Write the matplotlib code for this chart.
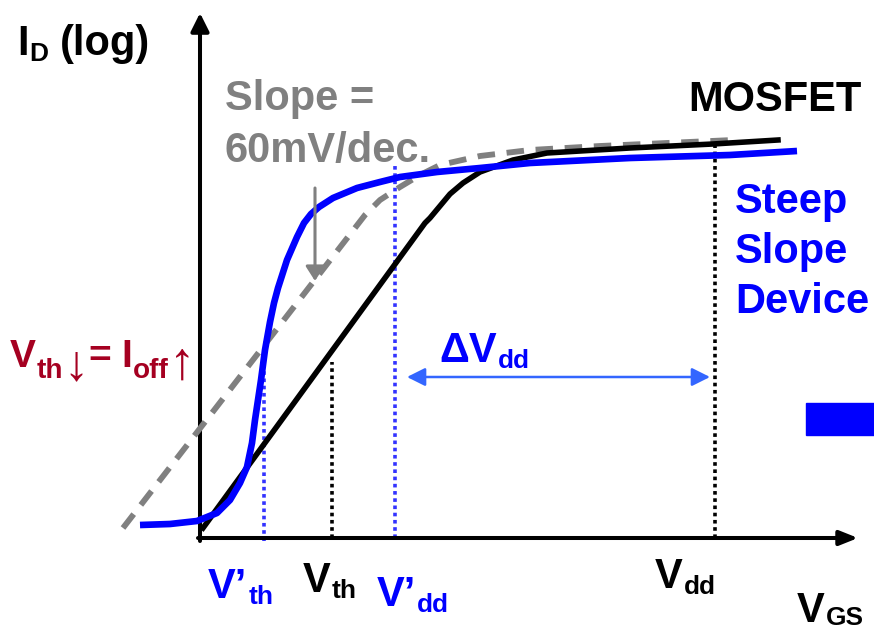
import matplotlib
matplotlib.use("Agg")
import matplotlib.pyplot as plt
from matplotlib.patches import Rectangle

FONT = ["Liberation Sans", "DejaVu Sans"]
plt.rcParams["font.family"] = FONT

# ---- data (diagram units: x = V_GS, y = log I_D; origin at axis crossing) ----
vgs_mosfet = [3, 225, 230, 250, 263, 280, 313, 347, 430, 513, 578]
id_mosfet = [10, 315, 320, 344, 355, 366, 378, 385, 390, 394, 398]

vgs_steep = [-60, -30, -3, 17, 30, 40, 47, 52, 55, 58, 61, 65, 70, 74, 78, 87,
             97, 104, 111, 119, 133, 157, 180, 200, 237, 280, 330, 430, 530, 597]
id_steep = [13, 14, 17, 25, 38, 55, 71, 95, 118, 138, 158, 188, 216, 235, 250,
            278, 301, 315, 324, 331, 340, 350, 356, 361, 366, 370, 375, 380, 383, 387]

vgs_ideal = [-77, 165, 180, 200, 220, 240, 280, 330, 400, 533]
id_ideal = [10, 323, 338, 351, 363, 373, 382, 388, 392, 398]

marker_names = ["V’th", "Vth", "V’dd", "Vdd"]
marker_vgs = [64, 132, 195, 515]
marker_top = [168, 176, 373, 393]

BLUE = "#0000FF"
DOT_BLUE = "#3333FF"
GREY = "#808080"
RED = "#A50021"
ARROW_BLUE = "#3366FF"

fig = plt.figure(figsize=(8.74, 6.3), dpi=100)
ax = fig.add_axes([0, 0, 1, 1])
ax.set_xlim(-200, 674)
ax.set_ylim(-92, 538)
ax.axis("off")
renderer = fig.canvas.get_renderer()


def px(x, y):
    """pixel (from top-left) -> diagram units"""
    return x - 200, 538 - y


def rich(x, y, parts, color, size=30, sub_scale=0.63, drop=6):
    cx, cy = px(x, y)
    for part in parts:
        s, kind = part[0], part[1]
        if kind == "gap":
            cx += s
            continue
        if kind == "a":  # thin, tall arrow glyph
            fs, weight, yy = part[2], "normal", cy - part[3]
        elif kind == "n":
            fs, weight, yy = size, "bold", cy
        else:
            fs, weight, yy = size * sub_scale, "bold", cy - drop
        t = ax.text(cx, yy, s, fontsize=fs, fontweight=weight, color=color,
                    ha="left", va="baseline", family=FONT)
        bb = t.get_window_extent(renderer)
        cx += bb.width + 1


# ---- axes with arrows ----
ax.annotate("", xy=(0, 525), xytext=(0, -3),
            arrowprops=dict(arrowstyle="-|>,head_length=0.5,head_width=0.25",
                            mutation_scale=22, lw=2.9, color="black",
                            shrinkA=0, shrinkB=0))
ax.annotate("", xy=(658, 0), xytext=(-2, 0),
            arrowprops=dict(arrowstyle="-|>,head_length=0.5,head_width=0.2",
                            mutation_scale=22, lw=2.9, color="black",
                            shrinkA=0, shrinkB=0))

# ---- dotted markers ----
for name, xv, top in zip(marker_names, marker_vgs, marker_top):
    col = DOT_BLUE if "’" in name else "black"
    bottom = -3 if name == "V’th" else 0
    ax.plot([xv, xv], [bottom, top], color=col, lw=2.6,
            linestyle=(0, (1, 1)), zorder=2)

# ---- curves ----
ax.plot(vgs_ideal, id_ideal, color=GREY, lw=4.2, linestyle=(0, (3.0, 2.0)),
        zorder=3)
ax.plot(vgs_mosfet, id_mosfet, color="black", lw=4.0, zorder=4,
        solid_joinstyle="round")
ax.plot(vgs_steep, id_steep, color=BLUE, lw=4.8, zorder=5,
        solid_capstyle="butt", solid_joinstyle="round")

# ---- slope pointer arrow ----
ax.annotate("", xy=(115, 257), xytext=(115, 350),
            arrowprops=dict(arrowstyle="-|>,head_length=0.55,head_width=0.35",
                            mutation_scale=16, lw=2.2, color=GREY,
                            shrinkA=0, shrinkB=0), zorder=6)

# ---- delta Vdd double arrow ----
ax.annotate("", xy=(510, 161), xytext=(207, 161),
            arrowprops=dict(arrowstyle="<|-|>,head_length=0.5,head_width=0.25",
                            mutation_scale=22, lw=1.8, color=ARROW_BLUE,
                            shrinkA=0, shrinkB=0))

# ---- blue rectangle ----
ax.add_patch(Rectangle((606, 103), 90, 32, color=BLUE, clip_on=False))

# ---- texts ----
rich(17, 55, [("I", "n"), ("D", "s"), (10, "gap"), ("(log)", "n")], "black")
rich(225, 110, [("Slope =", "n")], GREY)
rich(225, 162, [("60mV/dec.", "n")], GREY)
rich(688, 111, [("MOSFET", "n")], "black")
rich(735, 213, [("Steep", "n")], BLUE)
rich(735, 263, [("Slope", "n")], BLUE)
rich(735, 313, [("Device", "n")], BLUE)
rich(10, 367, [("V", "n"), ("th", "s"), (-1, "gap"), ("↓", "a", 36, 12),
               (-1, "gap"), ("=", "n"), (9, "gap"), ("I", "n"), ("off", "s"),
               (-1, "gap"), ("↑", "a", 38, 12)],
     RED, size=28, sub_scale=0.72, drop=11)
rich(439, 362, [("ΔV", "n"), ("dd", "s")], BLUE)
rich(208, 598, [("V’", "n"), ("th", "s")], BLUE)
rich(303, 592, [("V", "n"), ("th", "s")], "black")
rich(377, 606, [("V’", "n"), ("dd", "s")], BLUE)
rich(655, 588, [("V", "n"), ("dd", "s")], "black")
rich(797, 622, [("V", "n"), ("GS", "s")], "black", drop=3)

fig.savefig("out.png", dpi=100)
